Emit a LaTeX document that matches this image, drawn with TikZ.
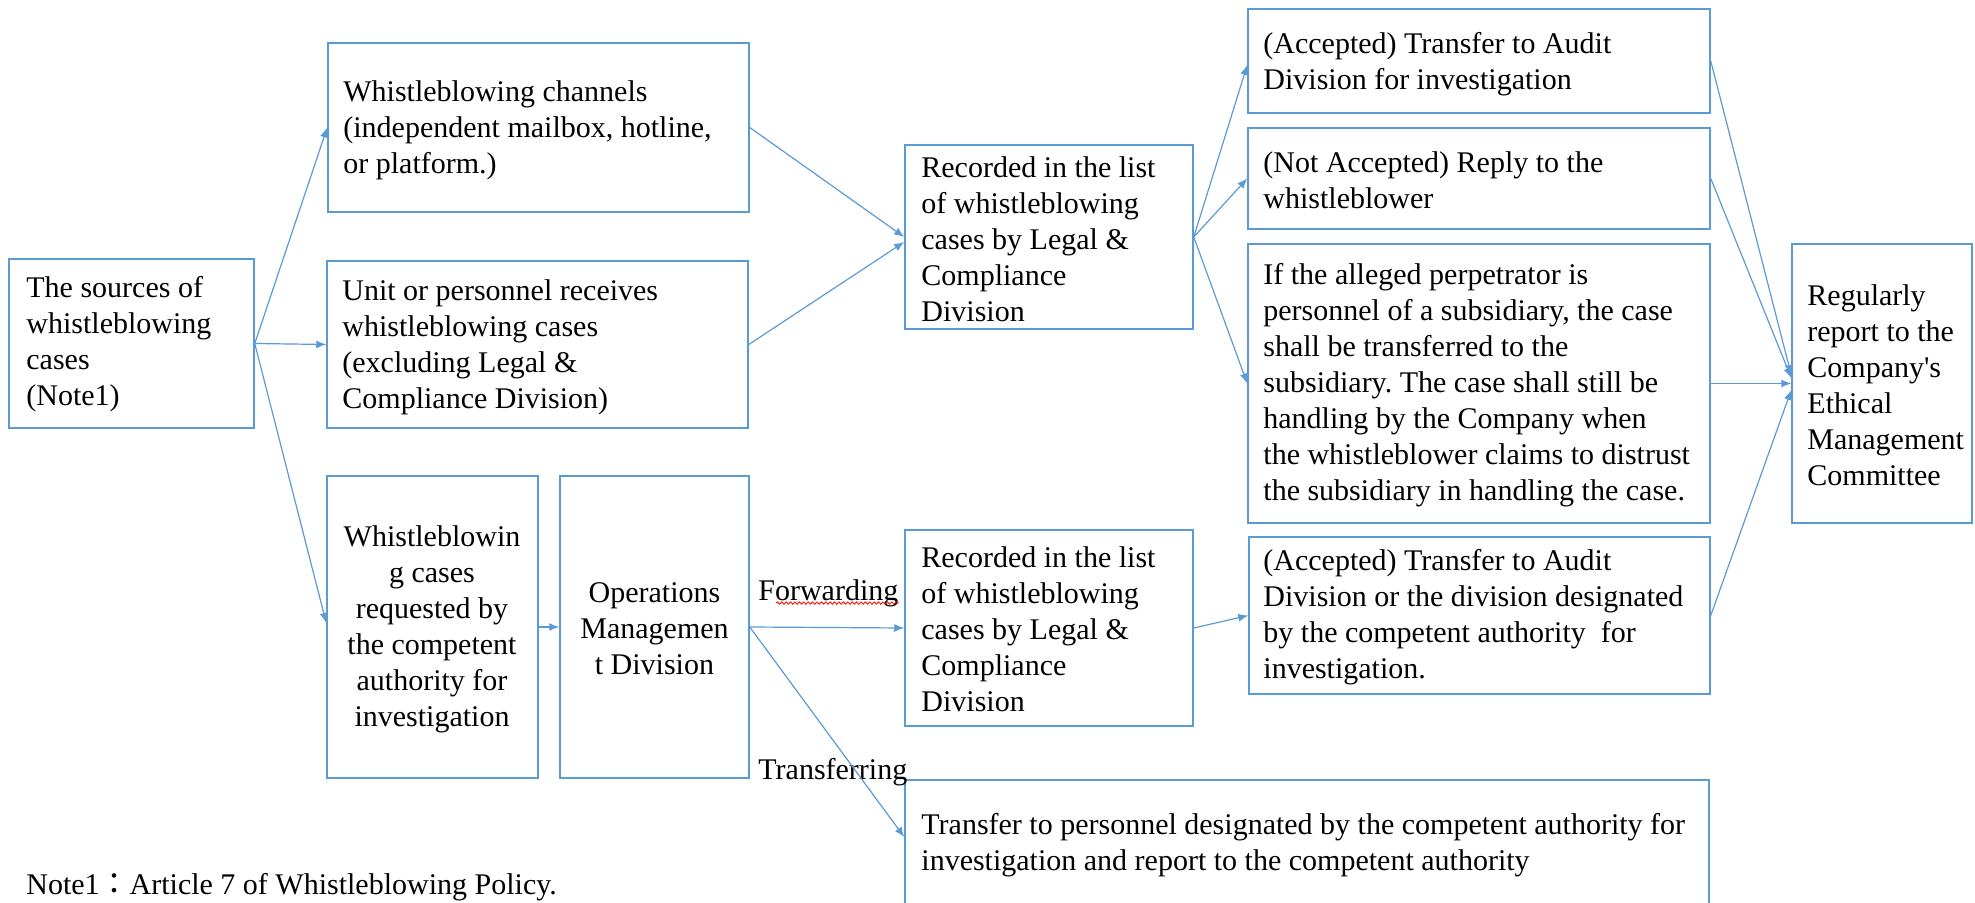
\documentclass[tikz,border=0pt]{standalone}
\usepackage{fontspec}
\setmainfont{Liberation Serif}
\newfontfamily\apfont[Ligatures=TeXOff]{Liberation Serif}
\newfontfamily\cjkfont{Noto Sans CJK TC}
\usetikzlibrary{arrows.meta,fit,decorations.pathmorphing}
\definecolor{ln}{RGB}{91,155,213}
\frenchspacing
\begin{document}
\begin{tikzpicture}[x=0.5pt,y=-0.5pt,
  box/.style={draw=ln, line width=0.75pt, inner sep=0pt, rectangle},
  txt/.style={inner sep=0pt, align=left, font=\fontsize{15}{18}\selectfont, anchor=west},
  ctxt/.style={inner sep=0pt, align=center, font=\fontsize{15}{18}\selectfont},
  arr/.style={draw=ln, line width=0.6pt, -{Latex[length=5pt,width=4pt]}}]
\useasboundingbox (0,0) rectangle (1975,903);
\fill[white] (0,0) rectangle (1975,903);
% boxes
\node[box, fit={(9,259)(254,428)}] (src) {};
\node[box, fit={(328,43)(749,212)}] (chan) {};
\node[box, fit={(327,261)(748,428)}] (unit) {};
\node[box, fit={(327,476)(538,778)}] (req) {};
\node[box, fit={(560,476)(749,778)}] (ops) {};
\node[box, fit={(905,145)(1193,329)}] (rec1) {};
\node[box, fit={(905,530)(1193,726)}] (rec2) {};
\node[box, fit={(1248,9)(1710,113)}] (acc1) {};
\node[box, fit={(1248,128)(1710,229)}] (nacc) {};
\node[box, fit={(1248,244)(1710,523)}] (subs) {};
\node[box, fit={(1249,537)(1710,694)}] (acc2) {};
\node[box, fit={(905,780)(1709,915)}] (trans) {};
\node[box, fit={(1792,244)(1972,523)}] (comm) {};
% texts
\node[txt] (tsrc) at (26,344) {The sources of\\whistleblowing\\cases\\(Note1)};
\node[txt] (tchan) at (343,130) {Whistleblowing channels\\(independent mailbox, hotline,\\or platform.)};
\node[txt] (tunit) at (342,347) {Unit or personnel receives\\whistleblowing cases\\(excluding Legal \&\\Compliance Division)};
\node[ctxt] (treq) at (432,629) {Whistleblowin\\g cases\\requested by\\the competent\\authority for\\investigation};
\node[ctxt] (tops) at (654.5,629) {Operations\\Managemen\\t Division};
\node[txt] (trec1) at (921,239.5) {Recorded in the list\\of whistleblowing\\cases by Legal \&\\Compliance\\Division};
\node[txt] (trec2) at (921,629.5) {Recorded in the list\\of whistleblowing\\cases by Legal \&\\Compliance\\Division};
\node[txt] (tacc1) at (1263,64.5) {(Accepted) Transfer to Audit\\Division for investigation};
\node[txt] (tnacc) at (1263,180.5) {(Not Accepted) Reply to the\\whistleblower};
\node[txt] (tsubs) at (1263,385) {If the alleged perpetrator is\\personnel of a subsidiary, the case\\shall be transferred to the\\subsidiary. The case shall still be\\handling by the Company when\\the whistleblower claims to distrust\\the subsidiary in handling the case.};
\node[txt] (tacc2) at (1263,617.5) {(Accepted) Transfer to Audit\\Division or the division designated\\by the competent authority\ \ for\\investigation.};
\node[txt] (ttrans) at (921,845) {Transfer to personnel designated by the competent authority for\\investigation and report to the competent authority};
\node[txt] (tcomm) at (1807,385) {Regularly\\report to the\\Company{\apfont '}s\\Ethical\\Management\\Committee};
\node[txt] (fwd) at (758,593) {Forwarding};
\node[txt] (trf) at (758,772) {Transferring};
\node[txt] (note) at (26,887) {Note1{\cjkfont ：}Article 7 of Whistleblowing Policy.};
\draw[red, line width=0.4pt, decorate, decoration={snake, amplitude=0.6pt, segment length=2.2pt}] ([xshift=9pt,yshift=2pt]fwd.south west) -- ([yshift=2pt]fwd.south east);
% connectors
\draw[arr] (src.east) -- (chan.west);
\draw[arr] (src.east) -- (unit.west);
\draw[arr] (src.east) -- ([yshift=2pt]req.west);
\draw[arr] (req.east) -- (ops.west);
\draw[arr] (chan.east) -- (rec1.west);
\draw[arr] (unit.east) -- ([yshift=-2.5pt]rec1.west);
\draw[arr] (rec1.east) -- ([yshift=-2pt]acc1.west);
\draw[arr] (rec1.east) -- (nacc.west);
\draw[arr] (rec1.east) -- (subs.west);
\draw[arr] (ops.east) -- (rec2.west);
\draw[arr] (ops.east) -- ([yshift=5.25pt]trans.west);
\draw[arr] (rec2.east) -- (acc2.west);
\draw[arr] (acc1.east) -- ([yshift=4.25pt]comm.west);
\draw[arr] (nacc.east) -- ([yshift=2.75pt]comm.west);
\draw[arr] (subs.east) -- (comm.west);
\draw[arr] (acc2.east) -- ([yshift=-3.25pt]comm.west);
\end{tikzpicture}
\end{document}
